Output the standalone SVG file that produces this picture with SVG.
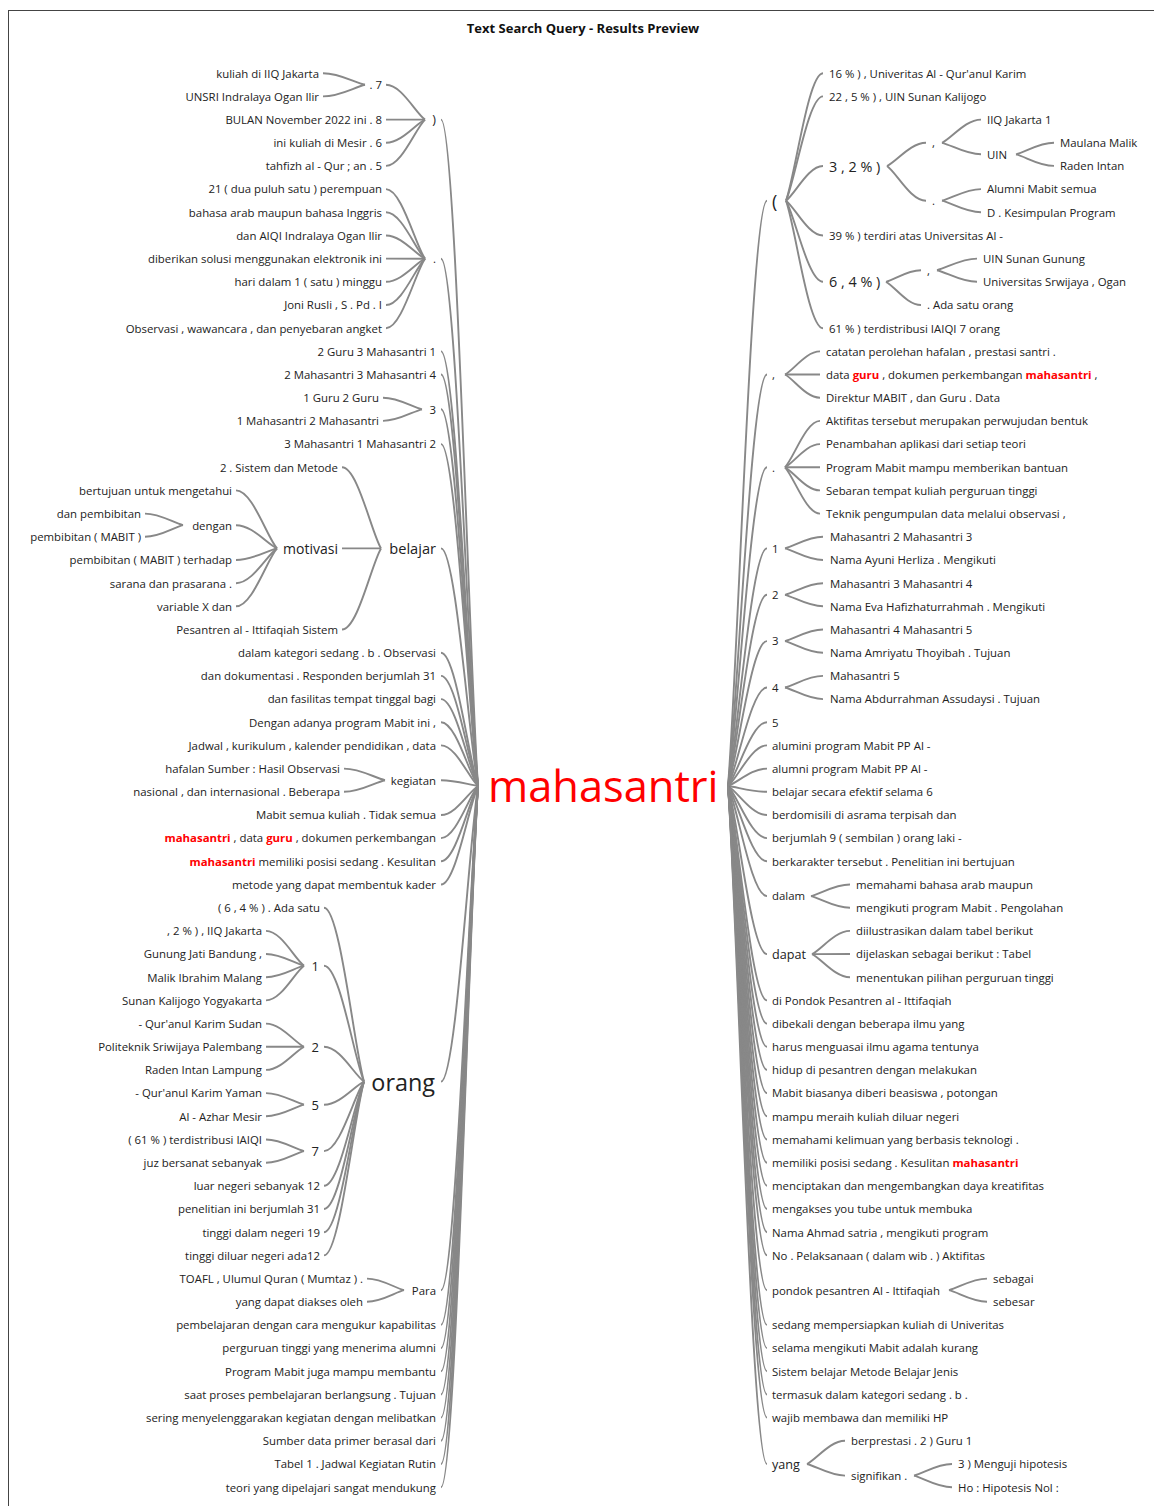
<svg xmlns="http://www.w3.org/2000/svg" width="1154" height="1506" viewBox="0 0 1154 1506">
<style>
text{font-family:"Open Sans","Noto Sans","DejaVu Sans",sans-serif;font-size:11.4px;fill:#222}
.e{text-anchor:end}
.hl{fill:#ff0000;font-weight:bold}
.title{font-weight:bold;font-size:13px;text-anchor:middle;fill:#111}
.root{font-size:43.4px;fill:#ff0000}
#connectors path{fill:none;stroke:#888;stroke-width:1.9}
</style>
<rect x="8.5" y="10.5" width="1160" height="1510" fill="#fff" stroke="#444" stroke-width="1"/>
<text class="title" x="583" y="33">Text Search Query - Results Preview</text>
<g id="connectors">
<path d="M441 119.6 C455.8 119.6 468.8 652.7 478 786"/>
<path d="M441 258.7 C455.8 258.7 468.8 680.5 478 786"/>
<path d="M441 351.4 C455.8 351.4 468.8 699.1 478 786"/>
<path d="M441 374.5 C455.8 374.5 468.8 703.7 478 786"/>
<path d="M441 409.3 C455.8 409.3 468.8 710.7 478 786"/>
<path d="M441 444.1 C455.8 444.1 468.8 717.6 478 786"/>
<path d="M441 548.4 C455.8 548.4 468.8 738.5 478 786"/>
<path d="M441 652.7 C455.8 652.7 468.8 759.3 478 786"/>
<path d="M441 675.9 C455.8 675.9 468.8 764.0 478 786"/>
<path d="M441 699.1 C455.8 699.1 468.8 768.6 478 786"/>
<path d="M441 722.2 C455.8 722.2 468.8 773.2 478 786"/>
<path d="M441 745.4 C455.8 745.4 468.8 777.9 478 786"/>
<path d="M441 780.2 C455.8 780.2 468.8 784.8 478 786"/>
<path d="M441 815.0 C455.8 815.0 468.8 791.8 478 786"/>
<path d="M441 838.1 C455.8 838.1 468.8 796.4 478 786"/>
<path d="M441 861.3 C455.8 861.3 468.8 801.1 478 786"/>
<path d="M441 884.5 C455.8 884.5 468.8 805.7 478 786"/>
<path d="M441 1081.6 C455.8 1081.6 468.8 845.1 478 786"/>
<path d="M441 1290.2 C455.8 1290.2 468.8 886.8 478 786"/>
<path d="M441 1324.9 C455.8 1324.9 468.8 893.8 478 786"/>
<path d="M441 1348.1 C455.8 1348.1 468.8 898.4 478 786"/>
<path d="M441 1371.3 C455.8 1371.3 468.8 903.1 478 786"/>
<path d="M441 1394.5 C455.8 1394.5 468.8 907.7 478 786"/>
<path d="M441 1417.6 C455.8 1417.6 468.8 912.3 478 786"/>
<path d="M441 1440.8 C455.8 1440.8 468.8 917.0 478 786"/>
<path d="M441 1464.0 C455.8 1464.0 468.8 921.6 478 786"/>
<path d="M441 1487.2 C455.8 1487.2 468.8 926.2 478 786"/>
<path d="M386 84.8 C401.6 84.8 415.3 112.6 425 119.6"/>
<path d="M386 119.6 C401.6 119.6 415.3 119.6 425 119.6"/>
<path d="M386 142.7 C401.6 142.7 415.3 124.2 425 119.6"/>
<path d="M386 165.9 C401.6 165.9 415.3 128.9 425 119.6"/>
<path d="M323 73.2 C339.8 73.2 354.5 82.5 365 84.8"/>
<path d="M323 96.4 C339.8 96.4 354.5 87.1 365 84.8"/>
<path d="M386 189.1 C401.6 189.1 415.3 244.8 425 258.7"/>
<path d="M386 212.3 C401.6 212.3 415.3 249.4 425 258.7"/>
<path d="M386 235.5 C401.6 235.5 415.3 254.1 425 258.7"/>
<path d="M386 258.6 C401.6 258.6 415.3 258.7 425 258.7"/>
<path d="M386 281.8 C401.6 281.8 415.3 263.3 425 258.7"/>
<path d="M386 305.0 C401.6 305.0 415.3 268.0 425 258.7"/>
<path d="M386 328.2 C401.6 328.2 415.3 272.6 425 258.7"/>
<path d="M383 397.7 C398.6 397.7 412.3 407.0 422 409.3"/>
<path d="M383 420.9 C398.6 420.9 412.3 411.6 422 409.3"/>
<path d="M342 467.3 C357.6 467.3 371.3 532.2 381 548.4"/>
<path d="M342 548.4 C357.6 548.4 371.3 548.4 381 548.4"/>
<path d="M342 629.5 C357.6 629.5 371.3 564.6 381 548.4"/>
<path d="M236 490.4 C252.4 490.4 266.8 536.8 277 548.4"/>
<path d="M236 525.2 C252.4 525.2 266.8 543.8 277 548.4"/>
<path d="M236 560.0 C252.4 560.0 266.8 550.7 277 548.4"/>
<path d="M236 583.2 C252.4 583.2 266.8 555.4 277 548.4"/>
<path d="M236 606.3 C252.4 606.3 266.8 560.0 277 548.4"/>
<path d="M145 513.6 C160.2 513.6 173.5 522.9 183 525.2"/>
<path d="M145 536.8 C160.2 536.8 173.5 527.5 183 525.2"/>
<path d="M344 768.6 C360.4 768.6 374.8 777.9 385 780.2"/>
<path d="M344 791.8 C360.4 791.8 374.8 782.5 385 780.2"/>
<path d="M324 907.7 C340 907.7 354 1046.8 364 1081.6"/>
<path d="M324 965.7 C340 965.7 354 1058.4 364 1081.6"/>
<path d="M324 1046.8 C340 1046.8 354 1074.6 364 1081.6"/>
<path d="M324 1104.7 C340 1104.7 354 1086.2 364 1081.6"/>
<path d="M324 1151.1 C340 1151.1 354 1095.5 364 1081.6"/>
<path d="M324 1185.8 C340 1185.8 354 1102.4 364 1081.6"/>
<path d="M324 1209.0 C340 1209.0 354 1107.1 364 1081.6"/>
<path d="M324 1232.2 C340 1232.2 354 1111.7 364 1081.6"/>
<path d="M324 1255.4 C340 1255.4 354 1116.4 364 1081.6"/>
<path d="M266 930.9 C281.2 930.9 294.5 958.7 304 965.7"/>
<path d="M266 954.0 C281.2 954.0 294.5 963.4 304 965.7"/>
<path d="M266 977.2 C281.2 977.2 294.5 968.0 304 965.7"/>
<path d="M266 1000.4 C281.2 1000.4 294.5 972.6 304 965.7"/>
<path d="M266 1023.6 C281.2 1023.6 294.5 1042.2 304 1046.8"/>
<path d="M266 1046.8 C281.2 1046.8 294.5 1046.8 304 1046.8"/>
<path d="M266 1069.9 C281.2 1069.9 294.5 1051.4 304 1046.8"/>
<path d="M266 1093.1 C281.2 1093.1 294.5 1102.4 304 1104.7"/>
<path d="M266 1116.3 C281.2 1116.3 294.5 1107.0 304 1104.7"/>
<path d="M266 1139.5 C281.2 1139.5 294.5 1148.8 304 1151.1"/>
<path d="M266 1162.7 C281.2 1162.7 294.5 1153.4 304 1151.1"/>
<path d="M367 1278.6 C381.8 1278.6 394.8 1287.9 404 1290.2"/>
<path d="M367 1301.7 C381.8 1301.7 394.8 1292.5 404 1290.2"/>
<path d="M728 786 C737.8 668.9 751.4 200.7 767 200.7"/>
<path d="M728 786 C737.8 703.7 751.4 374.5 767 374.5"/>
<path d="M728 786 C737.8 722.3 751.4 467.3 767 467.3"/>
<path d="M728 786 C737.8 738.5 751.4 548.4 767 548.4"/>
<path d="M728 786 C737.8 747.8 751.4 594.8 767 594.8"/>
<path d="M728 786 C737.8 757.0 751.4 641.1 767 641.1"/>
<path d="M728 786 C737.8 766.3 751.4 687.5 767 687.5"/>
<path d="M728 786 C737.8 773.2 751.4 722.2 767 722.2"/>
<path d="M728 786 C737.8 777.9 751.4 745.4 767 745.4"/>
<path d="M728 786 C737.8 782.5 751.4 768.6 767 768.6"/>
<path d="M728 786 C737.8 787.2 751.4 791.8 767 791.8"/>
<path d="M728 786 C737.8 791.8 751.4 815.0 767 815.0"/>
<path d="M728 786 C737.8 796.4 751.4 838.1 767 838.1"/>
<path d="M728 786 C737.8 801.1 751.4 861.3 767 861.3"/>
<path d="M728 786 C737.8 808.0 751.4 896.1 767 896.1"/>
<path d="M728 786 C737.8 819.6 751.4 954.1 767 954.1"/>
<path d="M728 786 C737.8 828.9 751.4 1000.4 767 1000.4"/>
<path d="M728 786 C737.8 833.5 751.4 1023.6 767 1023.6"/>
<path d="M728 786 C737.8 838.2 751.4 1046.8 767 1046.8"/>
<path d="M728 786 C737.8 842.8 751.4 1069.9 767 1069.9"/>
<path d="M728 786 C737.8 847.4 751.4 1093.1 767 1093.1"/>
<path d="M728 786 C737.8 852.1 751.4 1116.3 767 1116.3"/>
<path d="M728 786 C737.8 856.7 751.4 1139.5 767 1139.5"/>
<path d="M728 786 C737.8 861.3 751.4 1162.7 767 1162.7"/>
<path d="M728 786 C737.8 866.0 751.4 1185.8 767 1185.8"/>
<path d="M728 786 C737.8 870.6 751.4 1209.0 767 1209.0"/>
<path d="M728 786 C737.8 875.2 751.4 1232.2 767 1232.2"/>
<path d="M728 786 C737.8 879.9 751.4 1255.4 767 1255.4"/>
<path d="M728 786 C737.8 886.8 751.4 1290.2 767 1290.2"/>
<path d="M728 786 C737.8 893.8 751.4 1324.9 767 1324.9"/>
<path d="M728 786 C737.8 898.4 751.4 1348.1 767 1348.1"/>
<path d="M728 786 C737.8 903.1 751.4 1371.3 767 1371.3"/>
<path d="M728 786 C737.8 907.7 751.4 1394.5 767 1394.5"/>
<path d="M728 786 C737.8 912.3 751.4 1417.6 767 1417.6"/>
<path d="M728 786 C737.8 921.6 751.4 1464.0 767 1464.0"/>
<path d="M786 200.7 C795.3 175.2 808.2 73.2 823 73.2"/>
<path d="M786 200.7 C795.3 179.8 808.2 96.4 823 96.4"/>
<path d="M786 200.7 C795.3 193.7 808.2 166.0 823 166.0"/>
<path d="M786 200.7 C795.3 207.7 808.2 235.5 823 235.5"/>
<path d="M786 200.7 C795.3 216.9 808.2 281.8 823 281.8"/>
<path d="M786 200.7 C795.3 226.2 808.2 328.2 823 328.2"/>
<path d="M887 166.0 C896.8 161.4 910.4 142.8 926 142.8"/>
<path d="M887 166.0 C896.8 172.9 910.4 200.7 926 200.7"/>
<path d="M942 142.8 C951.8 138.2 965.4 119.6 981 119.6"/>
<path d="M942 142.8 C951.8 145.1 965.4 154.3 981 154.3"/>
<path d="M1016 154.3 C1025.5 152.0 1038.8 142.7 1054 142.7"/>
<path d="M1016 154.3 C1025.5 156.6 1038.8 165.9 1054 165.9"/>
<path d="M942 200.7 C951.8 198.4 965.4 189.1 981 189.1"/>
<path d="M942 200.7 C951.8 203.0 965.4 212.3 981 212.3"/>
<path d="M886 281.8 C894.8 279.5 907 270.2 921 270.2"/>
<path d="M886 281.8 C894.8 286.4 907 305.0 921 305.0"/>
<path d="M937 270.2 C947 267.9 961 258.6 977 258.6"/>
<path d="M937 270.2 C947 272.5 961 281.8 977 281.8"/>
<path d="M785 374.5 C793.8 369.9 806 351.4 820 351.4"/>
<path d="M785 374.5 C793.8 374.5 806 374.5 820 374.5"/>
<path d="M785 374.5 C793.8 379.1 806 397.7 820 397.7"/>
<path d="M785 467.3 C793.8 458.0 806 420.9 820 420.9"/>
<path d="M785 467.3 C793.8 462.7 806 444.1 820 444.1"/>
<path d="M785 467.3 C793.8 467.3 806 467.3 820 467.3"/>
<path d="M785 467.3 C793.8 471.9 806 490.4 820 490.4"/>
<path d="M785 467.3 C793.8 476.6 806 513.6 820 513.6"/>
<path d="M785 548.4 C794.5 546.1 807.8 536.8 823 536.8"/>
<path d="M785 548.4 C794.5 550.7 807.8 560.0 823 560.0"/>
<path d="M785 594.8 C794.5 592.5 807.8 583.2 823 583.2"/>
<path d="M785 594.8 C794.5 597.1 807.8 606.3 823 606.3"/>
<path d="M785 641.1 C794.5 638.8 807.8 629.5 823 629.5"/>
<path d="M785 641.1 C794.5 643.4 807.8 652.7 823 652.7"/>
<path d="M785 687.5 C794.5 685.2 807.8 675.9 823 675.9"/>
<path d="M785 687.5 C794.5 689.8 807.8 699.1 823 699.1"/>
<path d="M811 896.1 C820.8 893.8 834.4 884.5 850 884.5"/>
<path d="M811 896.1 C820.8 898.4 834.4 907.7 850 907.7"/>
<path d="M812 954.1 C821.5 949.5 834.8 930.9 850 930.9"/>
<path d="M812 954.1 C821.5 954.1 834.8 954.0 850 954.0"/>
<path d="M812 954.1 C821.5 958.7 834.8 977.2 850 977.2"/>
<path d="M949 1290.2 C958.5 1287.9 971.8 1278.6 987 1278.6"/>
<path d="M949 1290.2 C958.5 1292.5 971.8 1301.7 987 1301.7"/>
<path d="M807 1464.0 C816.5 1459.4 829.8 1440.8 845 1440.8"/>
<path d="M807 1464.0 C816.5 1466.3 829.8 1475.6 845 1475.6"/>
<path d="M914 1475.6 C923.5 1473.3 936.8 1464.0 952 1464.0"/>
<path d="M914 1475.6 C923.5 1477.9 936.8 1487.2 952 1487.2"/>
</g>
<g id="root"><text class="root" x="488" y="802">mahasantri</text></g>
<g id="left-nodes">
<g id="L-paren"><text class="e" x="436" y="124.4" style="font-size:12.5px">)</text></g>
<g id="L-dot7"><text class="e" x="382" y="89.1">. 7</text></g>
<g id="L-r0"><text class="e" x="319" y="77.5">kuliah di IIQ Jakarta</text></g>
<g id="L-r1"><text class="e" x="319" y="100.7">UNSRI Indralaya Ogan Ilir</text></g>
<g id="L-r2"><text class="e" x="382" y="123.9">BULAN November 2022 ini . 8</text></g>
<g id="L-r3"><text class="e" x="382" y="147.0">ini kuliah di Mesir . 6</text></g>
<g id="L-r4"><text class="e" x="382" y="170.2">tahfizh al - Qur ; an . 5</text></g>
<g id="L-dot"><text class="e" x="436" y="263">.</text></g>
<g id="L-r5"><text class="e" x="382" y="193.4">21 ( dua puluh satu ) perempuan</text></g>
<g id="L-r6"><text class="e" x="382" y="216.6">bahasa arab maupun bahasa Inggris</text></g>
<g id="L-r7"><text class="e" x="382" y="239.8">dan AIQI Indralaya Ogan Ilir</text></g>
<g id="L-r8"><text class="e" x="382" y="262.9">diberikan solusi menggunakan elektronik ini</text></g>
<g id="L-r9"><text class="e" x="382" y="286.1">hari dalam 1 ( satu ) minggu</text></g>
<g id="L-r10"><text class="e" x="382" y="309.3">Joni Rusli , S . Pd . I</text></g>
<g id="L-r11"><text class="e" x="382" y="332.5">Observasi , wawancara , dan penyebaran angket</text></g>
<g id="L-r12"><text class="e" x="436" y="355.7">2 Guru 3 Mahasantri 1</text></g>
<g id="L-r13"><text class="e" x="436" y="378.8">2 Mahasantri 3 Mahasantri 4</text></g>
<g id="L-3"><text class="e" x="436" y="413.6">3</text></g>
<g id="L-r14"><text class="e" x="379" y="402.0">1 Guru 2 Guru</text></g>
<g id="L-r15"><text class="e" x="379" y="425.2">1 Mahasantri 2 Mahasantri</text></g>
<g id="L-r16"><text class="e" x="436" y="448.4">3 Mahasantri 1 Mahasantri 2</text></g>
<g id="L-belajar"><text class="e" x="436" y="554.1" style="font-size:14.6px">belajar</text></g>
<g id="L-r17"><text class="e" x="338" y="471.6">2 . Sistem dan Metode</text></g>
<g id="L-motivasi"><text class="e" x="338" y="553.9" style="font-size:14px">motivasi</text></g>
<g id="L-r18"><text class="e" x="232" y="494.7">bertujuan untuk mengetahui</text></g>
<g id="L-dengan"><text class="e" x="232" y="529.5">dengan</text></g>
<g id="L-r19"><text class="e" x="141" y="517.9">dan pembibitan</text></g>
<g id="L-r20"><text class="e" x="141" y="541.1">pembibitan ( MABIT )</text></g>
<g id="L-r21"><text class="e" x="232" y="564.3">pembibitan ( MABIT ) terhadap</text></g>
<g id="L-r22"><text class="e" x="232" y="587.5">sarana dan prasarana .</text></g>
<g id="L-r23"><text class="e" x="232" y="610.6">variable X dan</text></g>
<g id="L-r24"><text class="e" x="338" y="633.8">Pesantren al - Ittifaqiah Sistem</text></g>
<g id="L-r25"><text class="e" x="436" y="657.0">dalam kategori sedang . b . Observasi</text></g>
<g id="L-r26"><text class="e" x="436" y="680.2">dan dokumentasi . Responden berjumlah 31</text></g>
<g id="L-r27"><text class="e" x="436" y="703.4">dan fasilitas tempat tinggal bagi</text></g>
<g id="L-r28"><text class="e" x="436" y="726.5">Dengan adanya program Mabit ini ,</text></g>
<g id="L-r29"><text class="e" x="436" y="749.7">Jadwal , kurikulum , kalender pendidikan , data</text></g>
<g id="L-kegiatan"><text class="e" x="436" y="784.5">kegiatan</text></g>
<g id="L-r30"><text class="e" x="340" y="772.9">hafalan Sumber : Hasil Observasi</text></g>
<g id="L-r31"><text class="e" x="340" y="796.1">nasional , dan internasional . Beberapa</text></g>
<g id="L-r32"><text class="e" x="436" y="819.3">Mabit semua kuliah . Tidak semua</text></g>
<g id="L-r33"><text class="e" x="436" y="842.4"><tspan class="hl">mahasantri</tspan> , data <tspan class="hl">guru</tspan> , dokumen perkembangan</text></g>
<g id="L-r34"><text class="e" x="436" y="865.6"><tspan class="hl">mahasantri</tspan> memiliki posisi sedang . Kesulitan</text></g>
<g id="L-r35"><text class="e" x="436" y="888.8">metode yang dapat membentuk kader</text></g>
<g id="L-orang"><text class="e" x="435" y="1090.7" style="font-size:23.4px">orang</text></g>
<g id="L-r36"><text class="e" x="320" y="912.0">( 6 , 4 % ) . Ada satu</text></g>
<g id="L-o1"><text class="e" x="319" y="970.7" style="font-size:13px">1</text></g>
<g id="L-r37"><text class="e" x="262" y="935.2">, 2 % ) , IIQ Jakarta</text></g>
<g id="L-r38"><text class="e" x="262" y="958.3">Gunung Jati Bandung ,</text></g>
<g id="L-r39"><text class="e" x="262" y="981.5">Malik Ibrahim Malang</text></g>
<g id="L-r40"><text class="e" x="262" y="1004.7">Sunan Kalijogo Yogyakarta</text></g>
<g id="L-o2"><text class="e" x="319" y="1051.8" style="font-size:13px">2</text></g>
<g id="L-r41"><text class="e" x="262" y="1027.9">- Qur'anul Karim Sudan</text></g>
<g id="L-r42"><text class="e" x="262" y="1051.1">Politeknik Sriwijaya Palembang</text></g>
<g id="L-r43"><text class="e" x="262" y="1074.2">Raden Intan Lampung</text></g>
<g id="L-o5"><text class="e" x="319" y="1109.7" style="font-size:13px">5</text></g>
<g id="L-r44"><text class="e" x="262" y="1097.4">- Qur'anul Karim Yaman</text></g>
<g id="L-r45"><text class="e" x="262" y="1120.6">Al - Azhar Mesir</text></g>
<g id="L-o7"><text class="e" x="319" y="1156.1" style="font-size:13px">7</text></g>
<g id="L-r46"><text class="e" x="262" y="1143.8">( 61 % ) terdistribusi IAIQI</text></g>
<g id="L-r47"><text class="e" x="262" y="1167.0">juz bersanat sebanyak</text></g>
<g id="L-r48"><text class="e" x="320" y="1190.1">luar negeri sebanyak 12</text></g>
<g id="L-r49"><text class="e" x="320" y="1213.3">penelitian ini berjumlah 31</text></g>
<g id="L-r50"><text class="e" x="320" y="1236.5">tinggi dalam negeri 19</text></g>
<g id="L-r51"><text class="e" x="320" y="1259.7">tinggi diluar negeri ada12</text></g>
<g id="L-para"><text class="e" x="436" y="1294.5">Para</text></g>
<g id="L-r52"><text class="e" x="363" y="1282.9">TOAFL , Ulumul Quran ( Mumtaz ) .</text></g>
<g id="L-r53"><text class="e" x="363" y="1306.0">yang dapat diakses oleh</text></g>
<g id="L-r54"><text class="e" x="436" y="1329.2">pembelajaran dengan cara mengukur kapabilitas</text></g>
<g id="L-r55"><text class="e" x="436" y="1352.4">perguruan tinggi yang menerima alumni</text></g>
<g id="L-r56"><text class="e" x="436" y="1375.6">Program Mabit juga mampu membantu</text></g>
<g id="L-r57"><text class="e" x="436" y="1398.8">saat proses pembelajaran berlangsung . Tujuan</text></g>
<g id="L-r58"><text class="e" x="436" y="1421.9">sering menyelenggarakan kegiatan dengan melibatkan</text></g>
<g id="L-r59"><text class="e" x="436" y="1445.1">Sumber data primer berasal dari</text></g>
<g id="L-r60"><text class="e" x="436" y="1468.3">Tabel 1 . Jadwal Kegiatan Rutin</text></g>
<g id="L-r61"><text class="e" x="436" y="1491.5">teori yang dipelajari sangat mendukung</text></g>
</g>
<g id="right-nodes">
<g id="R-paren"><text x="772" y="207.7" style="font-size:18px">(</text></g>
<g id="R-r0"><text x="829" y="77.5">16 % ) , Univeritas Al - Qur'anul Karim</text></g>
<g id="R-r1"><text x="829" y="100.7">22 , 5 % ) , UIN Sunan Kalijogo</text></g>
<g id="R-32"><text x="829" y="171.6" style="font-size:14.4px">3 , 2 % )</text></g>
<g id="R-32comma"><text x="932" y="147.1">,</text></g>
<g id="R-r2"><text x="987" y="123.9">IIQ Jakarta 1</text></g>
<g id="R-uin"><text x="987" y="158.6">UIN</text></g>
<g id="R-r3"><text x="1060" y="147.0">Maulana Malik</text></g>
<g id="R-r4"><text x="1060" y="170.2">Raden Intan</text></g>
<g id="R-32dot"><text x="932" y="205.0">.</text></g>
<g id="R-r5"><text x="987" y="193.4">Alumni Mabit semua</text></g>
<g id="R-r6"><text x="987" y="216.6">D . Kesimpulan Program</text></g>
<g id="R-r7"><text x="829" y="239.8">39 % ) terdiri atas Universitas Al -</text></g>
<g id="R-64"><text x="829" y="287.4" style="font-size:14.4px">6 , 4 % )</text></g>
<g id="R-64comma"><text x="927" y="274.5">,</text></g>
<g id="R-r8"><text x="983" y="262.9">UIN Sunan Gunung</text></g>
<g id="R-r9"><text x="983" y="286.1">Universitas Srwijaya , Ogan</text></g>
<g id="R-r10"><text x="927" y="309.3">. Ada satu orang</text></g>
<g id="R-r11"><text x="829" y="332.5">61 % ) terdistribusi IAIQI 7 orang</text></g>
<g id="R-comma"><text x="772" y="378.8">,</text></g>
<g id="R-r12"><text x="826" y="355.7">catatan perolehan hafalan , prestasi santri .</text></g>
<g id="R-r13"><text x="826" y="378.8">data <tspan class="hl">guru</tspan> , dokumen perkembangan <tspan class="hl">mahasantri</tspan> ,</text></g>
<g id="R-r14"><text x="826" y="402.0">Direktur MABIT , dan Guru . Data</text></g>
<g id="R-dot"><text x="772" y="471.6">.</text></g>
<g id="R-r15"><text x="826" y="425.2">Aktifitas tersebut merupakan perwujudan bentuk</text></g>
<g id="R-r16"><text x="826" y="448.4">Penambahan aplikasi dari setiap teori</text></g>
<g id="R-r17"><text x="826" y="471.6">Program Mabit mampu memberikan bantuan</text></g>
<g id="R-r18"><text x="826" y="494.7">Sebaran tempat kuliah perguruan tinggi</text></g>
<g id="R-r19"><text x="826" y="517.9">Teknik pengumpulan data melalui observasi ,</text></g>
<g id="R-1"><text x="772" y="552.7">1</text></g>
<g id="R-r20"><text x="830" y="541.1">Mahasantri 2 Mahasantri 3</text></g>
<g id="R-r21"><text x="830" y="564.3">Nama Ayuni Herliza . Mengikuti</text></g>
<g id="R-2"><text x="772" y="599.1">2</text></g>
<g id="R-r22"><text x="830" y="587.5">Mahasantri 3 Mahasantri 4</text></g>
<g id="R-r23"><text x="830" y="610.6">Nama Eva Hafizhaturrahmah . Mengikuti</text></g>
<g id="R-3"><text x="772" y="645.4">3</text></g>
<g id="R-r24"><text x="830" y="633.8">Mahasantri 4 Mahasantri 5</text></g>
<g id="R-r25"><text x="830" y="657.0">Nama Amriyatu Thoyibah . Tujuan</text></g>
<g id="R-4"><text x="772" y="691.8">4</text></g>
<g id="R-r26"><text x="830" y="680.2">Mahasantri 5</text></g>
<g id="R-r27"><text x="830" y="703.4">Nama Abdurrahman Assudaysi . Tujuan</text></g>
<g id="R-r28"><text x="772" y="726.5">5</text></g>
<g id="R-r29"><text x="772" y="749.7">alumini program Mabit PP Al -</text></g>
<g id="R-r30"><text x="772" y="772.9">alumni program Mabit PP Al -</text></g>
<g id="R-r31"><text x="772" y="796.1">belajar secara efektif selama 6</text></g>
<g id="R-r32"><text x="772" y="819.3">berdomisili di asrama terpisah dan</text></g>
<g id="R-r33"><text x="772" y="842.4">berjumlah 9 ( sembilan ) orang laki -</text></g>
<g id="R-r34"><text x="772" y="865.6">berkarakter tersebut . Penelitian ini bertujuan</text></g>
<g id="R-dalam"><text x="772" y="900.4">dalam</text></g>
<g id="R-r35"><text x="856" y="888.8">memahami bahasa arab maupun</text></g>
<g id="R-r36"><text x="856" y="912.0">mengikuti program Mabit . Pengolahan</text></g>
<g id="R-dapat"><text x="772" y="958.8" style="font-size:12.6px">dapat</text></g>
<g id="R-r37"><text x="856" y="935.2">diilustrasikan dalam tabel berikut</text></g>
<g id="R-r38"><text x="856" y="958.3">dijelaskan sebagai berikut : Tabel</text></g>
<g id="R-r39"><text x="856" y="981.5">menentukan pilihan perguruan tinggi</text></g>
<g id="R-r40"><text x="772" y="1004.7">di Pondok Pesantren al - Ittifaqiah</text></g>
<g id="R-r41"><text x="772" y="1027.9">dibekali dengan beberapa ilmu yang</text></g>
<g id="R-r42"><text x="772" y="1051.1">harus menguasai ilmu agama tentunya</text></g>
<g id="R-r43"><text x="772" y="1074.2">hidup di pesantren dengan melakukan</text></g>
<g id="R-r44"><text x="772" y="1097.4">Mabit biasanya diberi beasiswa , potongan</text></g>
<g id="R-r45"><text x="772" y="1120.6">mampu meraih kuliah diluar negeri</text></g>
<g id="R-r46"><text x="772" y="1143.8">memahami kelimuan yang berbasis teknologi .</text></g>
<g id="R-r47"><text x="772" y="1167.0">memiliki posisi sedang . Kesulitan <tspan class="hl">mahasantri</tspan></text></g>
<g id="R-r48"><text x="772" y="1190.1">menciptakan dan mengembangkan daya kreatifitas</text></g>
<g id="R-r49"><text x="772" y="1213.3">mengakses you tube untuk membuka</text></g>
<g id="R-r50"><text x="772" y="1236.5">Nama Ahmad satria , mengikuti program</text></g>
<g id="R-r51"><text x="772" y="1259.7">No . Pelaksanaan ( dalam wib . ) Aktifitas</text></g>
<g id="R-pondok"><text x="772" y="1294.5">pondok pesantren Al - Ittifaqiah</text></g>
<g id="R-r52"><text x="993" y="1282.9">sebagai</text></g>
<g id="R-r53"><text x="993" y="1306.0">sebesar</text></g>
<g id="R-r54"><text x="772" y="1329.2">sedang mempersiapkan kuliah di Univeritas</text></g>
<g id="R-r55"><text x="772" y="1352.4">selama mengikuti Mabit adalah kurang</text></g>
<g id="R-r56"><text x="772" y="1375.6">Sistem belajar Metode Belajar Jenis</text></g>
<g id="R-r57"><text x="772" y="1398.8">termasuk dalam kategori sedang . b .</text></g>
<g id="R-r58"><text x="772" y="1421.9">wajib membawa dan memiliki HP</text></g>
<g id="R-yang"><text x="772" y="1468.8" style="font-size:12.6px">yang</text></g>
<g id="R-r59"><text x="851" y="1445.1">berprestasi . 2 ) Guru 1</text></g>
<g id="R-signifikan"><text x="851" y="1479.9">signifikan .</text></g>
<g id="R-r60"><text x="958" y="1468.3">3 ) Menguji hipotesis</text></g>
<g id="R-r61"><text x="958" y="1491.5">Ho : Hipotesis Nol :</text></g>
</g>
</svg>
